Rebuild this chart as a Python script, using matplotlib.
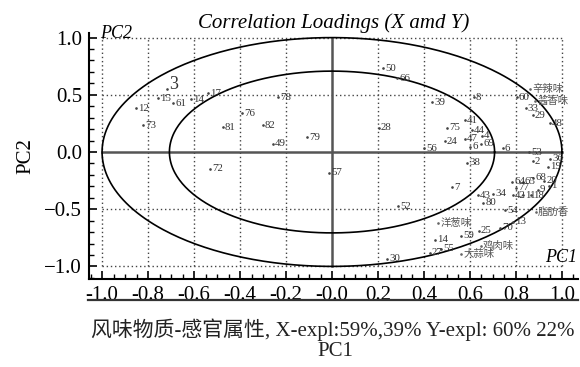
import matplotlib
matplotlib.use("Agg")
import matplotlib.pyplot as plt
import numpy as np
from matplotlib.lines import Line2D
from matplotlib.ticker import MultipleLocator

plt.rcParams['font.family'] = ['Liberation Serif', 'Noto Sans CJK SC', 'DejaVu Sans']

# loadings, X (flavour compounds)
x_labels = ['3', '15', '61', '14', '17', '12', '73', '78', '76', '81', '82', '79', '49', '72', '57',
            '50', '66', '39', '8', '60', '33', '29', '48', '28', '41', '75', '44', '4', '47', '69',
            '6', '24', '56', '6', '38', '7', '53', '2', '36', '19', '64', '65', '68', '20', '77',
            '9', '1', '42', '11', '18', '43', '34', '80', '54', '13', '70', '25', '59', '14', '27',
            '55', '30', '52']
x_pc1 = [-0.717, -0.757, -0.691, -0.613, -0.539, -0.852, -0.822, -0.235, -0.391, -0.474, -0.300,
         -0.109, -0.257, -0.530, -0.013, 0.222, 0.283, 0.435, 0.617, 0.804, 0.843, 0.874, 0.948,
         0.204, 0.578, 0.500, 0.609, 0.652, 0.578, 0.648, 0.600, 0.491, 0.400, 0.743, 0.587,
         0.522, 0.857, 0.874, 0.948, 0.939, 0.783, 0.830, 0.874, 0.922, 0.800, 0.896, 0.943,
         0.787, 0.830, 0.866, 0.635, 0.700, 0.657, 0.752, 0.787, 0.730, 0.639, 0.561, 0.448,
         0.426, 0.474, 0.239, 0.287]
x_pc2 = [0.550, 0.472, 0.428, 0.463, 0.515, 0.384, 0.236, 0.480, 0.340, 0.218, 0.236, 0.131,
         0.070, -0.148, -0.183, 0.734, 0.646, 0.437, 0.480, 0.480, 0.384, 0.323, 0.253, 0.210,
         0.279, 0.210, 0.192, 0.140, 0.114, 0.070, 0.044, 0.096, 0.035, 0.035, -0.096, -0.306,
         0.000, -0.079, -0.061, -0.131, -0.262, -0.262, -0.227, -0.253, -0.314, -0.332, -0.297,
         -0.376, -0.376, -0.376, -0.376, -0.367, -0.445, -0.507, -0.611, -0.664, -0.690, -0.734,
         -0.769, -0.882, -0.847, -0.934, -0.472]

# loadings, Y (sensory attributes)
y_labels = ['辛辣味', '酱香味', '脂肪香', '洋葱味', '鸡肉味', '大蒜味']
y_pc1 = [0.861, 0.883, 0.887, 0.461, 0.648, 0.561]
y_pc2 = [0.550, 0.445, -0.524, -0.620, -0.821, -0.891]

fig = plt.figure(figsize=(5.8, 3.67), dpi=100)
ax = fig.add_axes([0.1534, 0.2398, 0.8432, 0.6702])

# explained variance circles (100% and 50%)
t = np.linspace(0, 2 * np.pi, 400)
for r in [1.0, np.sqrt(0.5)]:
    ax.plot(r * np.cos(t), r * np.sin(t), color='black', lw=1.2, zorder=3)

# dotted grid inside the unit square
for gx in [-1.0, -0.8, -0.6, -0.4, -0.2, 0.2, 0.4, 0.6, 0.8, 1.0]:
    ax.plot([gx, gx], [-1, 1], color='#444444', lw=1.0, ls=(0, (1, 2)), zorder=1)
for gy in [-1.0, -0.5, 0.5, 1.0]:
    ax.plot([-1, 1], [gy, gy], color='#444444', lw=1.0, ls=(0, (1, 2)), zorder=1)
ax.plot([-1, 1], [0, 0], color='#555555', lw=1.8, zorder=2)
ax.plot([0, 0], [-1, 1], color='#555555', lw=1.8, zorder=2)

ax.scatter(x_pc1, x_pc2, s=0.8, color='#444444', zorder=4)
for lab, px, py in zip(x_labels, x_pc1, x_pc2):
    fs = 13 if lab == '3' else 7.8
    dy = 3 if lab == '3' else 0
    ax.annotate(lab, (px, py), xytext=(1.5, dy), textcoords='offset points',
                fontsize=fs, color='#333333', va='center', ha='left', zorder=5)

ax.scatter(y_pc1, y_pc2, s=0.8, color='#666666', zorder=4)
for lab, px, py in zip(y_labels, y_pc1, y_pc2):
    ax.annotate(lab, (px, py), xytext=(1.5, 0), textcoords='offset points',
                fontsize=7.5, color='#555555', va='center', ha='left', zorder=5)

ax.text(-1.01, 1.04, 'PC2', fontsize=13, style='italic', ha='left', va='center')
ax.text(0.926, -0.926, 'PC1', fontsize=13, style='italic', ha='left', va='center')

ax.set_xlim(-1.057, 1.07)
ax.set_ylim(-1.11, 1.04)
ax.xaxis.set_major_locator(MultipleLocator(0.2))
ax.xaxis.set_minor_locator(MultipleLocator(0.05))
ax.yaxis.set_major_locator(MultipleLocator(0.5))
ax.yaxis.set_minor_locator(MultipleLocator(0.1))
ax.set_xticks(np.round(np.arange(-1.0, 1.01, 0.2), 1))
ax.set_xticklabels(['%.1f' % v for v in np.round(np.arange(-1.0, 1.01, 0.2), 1)])
ax.tick_params(which='major', direction='in', length=6, width=1.2, labelsize=15, pad=5)
ax.tick_params(which='minor', direction='in', length=3.5, width=1.0)
for side in ['top', 'right']:
    ax.spines[side].set_visible(False)
for side in ['left', 'bottom']:
    ax.spines[side].set_linewidth(1.5)

ax.set_title('Correlation Loadings (X amd Y)', fontsize=15, style='italic', pad=3)
ax.set_ylabel('PC2', fontsize=15, labelpad=6)

# rule under the x tick labels
fig.add_artist(Line2D([0.152, 0.997], [0.182, 0.182], color='#333333', lw=1.6))

fig.text(0.573, 0.101, '风味物质-感官属性, X-expl:59%,39% Y-expl: 60% 22%',
         fontsize=15, ha='center', va='center', color='#222222')
fig.text(0.578, 0.041, 'PC1', fontsize=15, ha='center', va='center', color='#222222')

fig.savefig('out.png', dpi=100)
